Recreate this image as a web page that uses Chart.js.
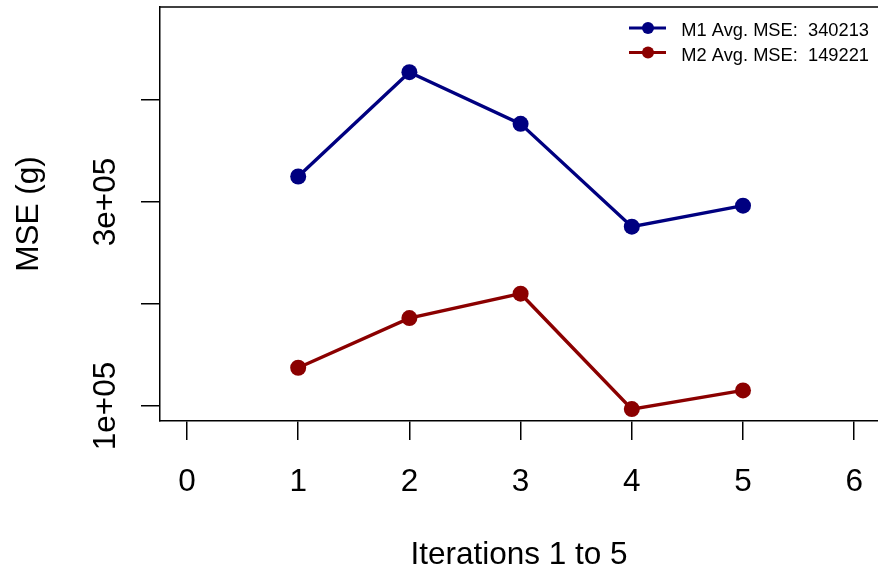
<!DOCTYPE html>
<html>
<head>
<meta charset="utf-8">
<script src="https://cdn.jsdelivr.net/npm/chart.js@4.4.1/dist/chart.umd.min.js"></script>
<style>
  html, body { margin: 0; padding: 0; background: #fff; }
</style>
</head>
<body>
<canvas id="mseChart" width="878" height="574"></canvas>
<script>
// Data
const iterations = [1, 2, 3, 4, 5];
const m1Mse = [325000, 427300, 376600, 275800, 296400];
const m2Mse = [137500, 186200, 210100, 97000, 115300];

const seriesNames = ['M1 Avg. MSE:  340213', 'M2 Avg. MSE:  149221'];
const seriesColors = ['#000080', '#8B0000'];

const xTicks = [0, 1, 2, 3, 4, 5, 6];
const yTicks = [100000, 200000, 300000, 400000];
const yTickLabels = ['1e+05', '', '3e+05', ''];

const xTitle = 'Iterations 1 to 5';
const yTitle = 'MSE (g)';

const FONT = '"Liberation Sans", Arial, Helvetica, sans-serif';
const BIG = 31.5;

function toPoints(ys) {
    return iterations.map((x, i) => ({ x: x, y: ys[i] }));
}

// Box top edge, rotated y labels and the legend (R style)
const rStyle = {
    id: 'rStyle',
    afterDraw(chart) {
        const { ctx, chartArea, scales } = chart;
        ctx.save();

        ctx.strokeStyle = '#000';
        ctx.lineWidth = 1.5;
        ctx.beginPath();
        ctx.moveTo(chartArea.left, chartArea.top);
        ctx.lineTo(chartArea.right, chartArea.top);
        ctx.stroke();

        ctx.fillStyle = '#000';
        ctx.font = BIG + 'px ' + FONT;
        ctx.textAlign = 'center';
        ctx.textBaseline = 'alphabetic';
        yTicks.forEach((v, i) => {
            if (!yTickLabels[i]) return;
            ctx.save();
            ctx.translate(scales.y.right - 45, scales.y.getPixelForValue(v));
            ctx.rotate(-Math.PI / 2);
            ctx.fillText(yTickLabels[i], 0, 0);
            ctx.restore();
        });

        // legend, no box
        const r = chartArea.right;
        ctx.font = '18.3px ' + FONT;
        chart.data.datasets.forEach((ds, i) => {
            const cy = 28 + i * 24.5;
            ctx.strokeStyle = ds.borderColor;
            ctx.lineWidth = 3;
            ctx.beginPath();
            ctx.moveTo(r - 249, cy);
            ctx.lineTo(r - 212, cy);
            ctx.stroke();
            ctx.fillStyle = ds.borderColor;
            ctx.beginPath();
            ctx.arc(r - 230, cy, 6, 0, Math.PI * 2);
            ctx.fill();
            ctx.fillStyle = '#000';
            ctx.textAlign = 'right';
            ctx.fillText(seriesNames[i], r - 9, cy + 8);
        });

        ctx.restore();
    }
};

const axisGrid = {
    drawOnChartArea: false,
    drawTicks: true,
    tickLength: 19,
    color: '#000',
    lineWidth: 1.5
};

new Chart(document.getElementById('mseChart'), {
    type: 'line',
    data: {
        datasets: [m1Mse, m2Mse].map((ys, i) => ({
            label: seriesNames[i],
            data: toPoints(ys),
            borderColor: seriesColors[i],
            backgroundColor: seriesColors[i],
            pointBackgroundColor: seriesColors[i],
            pointBorderWidth: 0,
            pointRadius: 8,
            borderWidth: 3.4,
            tension: 0,
            fill: false
        }))
    },
    options: {
        responsive: false,
        animation: false,
        layout: { autoPadding: false, padding: { top: 7, right: 0, bottom: 0, left: 0 } },
        plugins: {
            legend: { display: false },
            tooltip: { enabled: false }
        },
        scales: {
            x: {
                type: 'linear',
                min: -0.2428,
                max: 6.214,
                afterBuildTicks: s => { s.ticks = xTicks.map(v => ({ value: v })); },
                afterFit: s => {
                    s.height = 153;
                    s.paddingLeft = 0;
                    s.paddingRight = 0;
                },
                grid: axisGrid,
                border: { display: true, color: '#000', width: 1.5 },
                ticks: {
                    color: '#000',
                    padding: 23,
                    maxRotation: 0,
                    font: { family: FONT, size: BIG },
                    callback: v => String(v)
                },
                title: {
                    display: true,
                    text: xTitle,
                    color: '#000',
                    font: { family: FONT, size: BIG },
                    padding: { top: 0, bottom: 0 }
                }
            },
            y: {
                type: 'linear',
                min: 85294,
                max: 491176,
                afterBuildTicks: s => { s.ticks = yTicks.map(v => ({ value: v })); },
                afterFit: s => { s.width = 160; },
                grid: axisGrid,
                border: { display: true, color: '#000', width: 1.5 },
                ticks: { display: false },
                title: {
                    display: true,
                    text: yTitle,
                    color: '#000',
                    font: { family: FONT, size: BIG },
                    padding: { top: 10, bottom: 0 }
                }
            }
        }
    },
    plugins: [rStyle]
});
</script>
</body>
</html>
